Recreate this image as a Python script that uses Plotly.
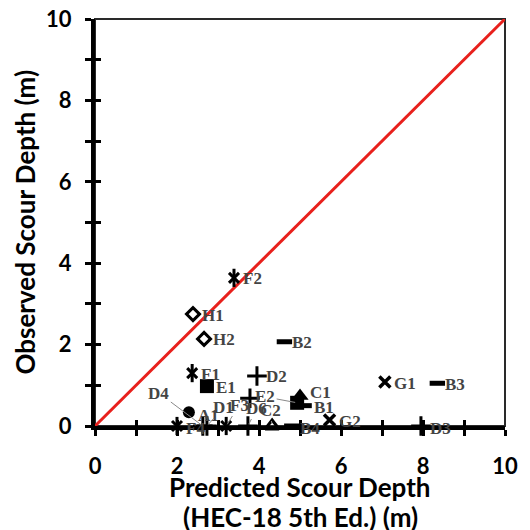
import plotly.graph_objects as go

# ---------------- data ----------------
labels    = ["A1", "B1", "B2", "B3", "B4", "C1", "C2", "D1", "D2", "D3", "D4", "D5", "D6",
             "E1", "E2", "F1", "F2", "F3", "F4", "G1", "G2", "H1", "H2"]
predicted = [2.29, 5.10, 4.62, 8.35, 4.80, 5.00, 4.32, 2.73, 3.95, 7.95, 2.63, 3.78, 3.73,
             2.73, 4.93, 2.37, 3.39, 3.20, 2.00, 7.07, 5.72, 2.39, 2.66]
observed  = [0.34, 0.50, 2.07, 1.05, 0.00, 0.74, 0.00, 0.00, 1.23, 0.00, 0.00, 0.68, 0.00,
             0.98, 0.57, 1.30, 3.64, 0.00, 0.00, 1.08, 0.15, 2.75, 2.14]
line_x = [0, 10]
line_y = [0, 10]
x_ticks = [0, 2, 4, 6, 8, 10]
y_ticks = [0, 2, 4, 6, 8, 10]
x_title_lines = ["Predicted Scour Depth", "(HEC-18 5th Ed.) (m)"]
y_title = "Observed Scour Depth (m)"

# --------------- styles ---------------
BLACK = "black"
styles = {
    "A": [dict(symbol="circle", size=12, color=BLACK, line=dict(width=0))],
    "B": [dict(symbol="line-ew-open", size=11, color=BLACK, line=dict(width=5, color=BLACK))],
    "C1": [dict(symbol="triangle-up", size=15, color=BLACK, line=dict(width=0))],
    "C2": [dict(symbol="triangle-up-open", size=12, color=BLACK, line=dict(width=3, color=BLACK))],
    "D": [dict(symbol="cross-thin-open", size=14, color=BLACK, line=dict(width=3, color=BLACK))],
    "E": [dict(symbol="square", size=14, color=BLACK, line=dict(width=0))],
    "F": [dict(symbol="x-thin-open", size=10, color=BLACK, line=dict(width=3, color=BLACK)),
          dict(symbol="line-ns-open", size=13, color=BLACK, line=dict(width=3, color=BLACK))],
    "G": [dict(symbol="x-thin-open", size=11, color=BLACK, line=dict(width=3.5, color=BLACK))],
    "H": [dict(symbol="diamond-open", size=10, color=BLACK, line=dict(width=3, color=BLACK))],
}

def style_key(lab):
    if lab in styles:
        return lab
    return lab[0]

fig = go.Figure()

# thin frame round the plot area (top and right visible; left/bottom covered by axes)
fig.add_shape(type="rect", xref="x domain", yref="y domain", x0=0, x1=1, y0=0, y1=1,
              layer="below", fillcolor="rgba(0,0,0,0)",
              line=dict(color="#2a2a2a", width=2))

# 1:1 line
fig.add_trace(go.Scatter(x=line_x, y=line_y, mode="lines",
                         line=dict(color="#e8201c", width=3), hoverinfo="skip",
                         showlegend=False))

groups = {}
for lab, px, oy in zip(labels, predicted, observed):
    k = style_key(lab)
    groups.setdefault(k, ([], [], []))
    groups[k][0].append(px)
    groups[k][1].append(oy)
    groups[k][2].append(lab)

for k, (xs, ys, labs) in groups.items():
    for m in styles[k]:
        fig.add_trace(go.Scatter(x=xs, y=ys, mode="markers", marker=m, text=labs,
                                 cliponaxis=False, showlegend=False))

# label placement (pixel offsets)
label_font = dict(family="Liberation Serif", size=17, color="#444444", weight="bold")
leaders = {  # label: (ax, ay) offset of label relative to point
    "D4": (-44, -33),
    "D1": (17, -19),
    "F3": (13, -21),
    "D6": (9, -18),
    "E2": (-32, -6),
    "C2": (-2, -16),
}
right_shift = {"B1": 8, "B2": 6, "B3": 6, "B4": 6, "C1": 8}
yshift_map = {"C1": 3, "A1": -3, "B1": -2, "G2": -2, "B4": -2, "F4": -2, "D3": -2}
for lab, px, oy in zip(labels, predicted, observed):
    if lab == "D5":
        continue
    if lab in leaders:
        ax, ay = leaders[lab]
        fig.add_annotation(x=px, y=oy, text=lab, showarrow=True, ax=ax, ay=ay,
                           arrowhead=0, arrowwidth=1, arrowcolor="#8a8a8a",
                           font=label_font, standoff=2)
    else:
        fig.add_annotation(x=px, y=oy, text=lab, showarrow=False, xanchor="left",
                           xshift=right_shift.get(lab, 7), yshift=yshift_map.get(lab, -1),
                           font=label_font)

tick_font = dict(family="Lato", size=22, color="black", weight="bold")
title_font = dict(family="Lato", size=26, color="black", weight="bold")

common = dict(range=[0, 10], showgrid=False, zeroline=False, automargin=False)
fig.update_layout(
    width=530, height=530,
    margin=dict(l=95, r=25, t=19, b=104),
    plot_bgcolor="white", paper_bgcolor="white",
    xaxis=dict(**common, tickvals=x_ticks, ticks="outside", ticklen=6, tickwidth=3,
               tickcolor=BLACK, showline=True, linewidth=4, linecolor=BLACK,
               minor=dict(dtick=1, ticks="outside", ticklen=6, tickwidth=3, tickcolor=BLACK),
               tickfont=tick_font, ticklabelstandoff=12, ticklabeloverflow="allow"),
    yaxis=dict(**common, tickvals=y_ticks, ticks="outside", ticklen=6, tickwidth=3,
               tickcolor=BLACK, showline=True, linewidth=4, linecolor=BLACK,
               minor=dict(dtick=1, ticks="outside", ticklen=6, tickwidth=3, tickcolor=BLACK),
               tickfont=tick_font, ticklabelstandoff=9, ticklabeloverflow="allow"),
    xaxis2=dict(**common, overlaying="x", matches="x", anchor="y", side="bottom",
                tickvals=x_ticks, ticks="inside", ticklen=6, tickwidth=3, tickcolor=BLACK,
                minor=dict(dtick=1, ticks="inside", ticklen=6, tickwidth=3, tickcolor=BLACK),
                showticklabels=False, showline=False),
    yaxis2=dict(**common, overlaying="y", matches="y", anchor="x", side="left",
                tickvals=y_ticks, ticks="inside", ticklen=6, tickwidth=3, tickcolor=BLACK,
                minor=dict(dtick=1, ticks="inside", ticklen=6, tickwidth=3, tickcolor=BLACK),
                showticklabels=False, showline=False),
)
# invisible trace to activate the overlay axes (crossing ticks)
fig.add_trace(go.Scatter(x=line_x, y=line_y, xaxis="x2", yaxis="y2", mode="lines",
                         line=dict(width=0), hoverinfo="skip", showlegend=False))

# axis titles
fig.add_annotation(xref="paper", yref="paper", x=0.5, y=-0.150, yanchor="middle",
                   text=x_title_lines[0], showarrow=False, font=title_font)
fig.add_annotation(xref="paper", yref="paper", x=0.5, y=-0.224, yanchor="middle",
                   text=x_title_lines[1], showarrow=False, font=title_font)
fig.add_annotation(xref="paper", yref="paper", x=-0.173, y=0.5, xanchor="center",
                   yanchor="middle", textangle=-90, text=y_title,
                   showarrow=False, font=title_font)

fig.write_html("out.html", config={"displayModeBar": False},
               post_script="document.body.style.margin='0';"
                           "document.documentElement.style.overflow='hidden';")
